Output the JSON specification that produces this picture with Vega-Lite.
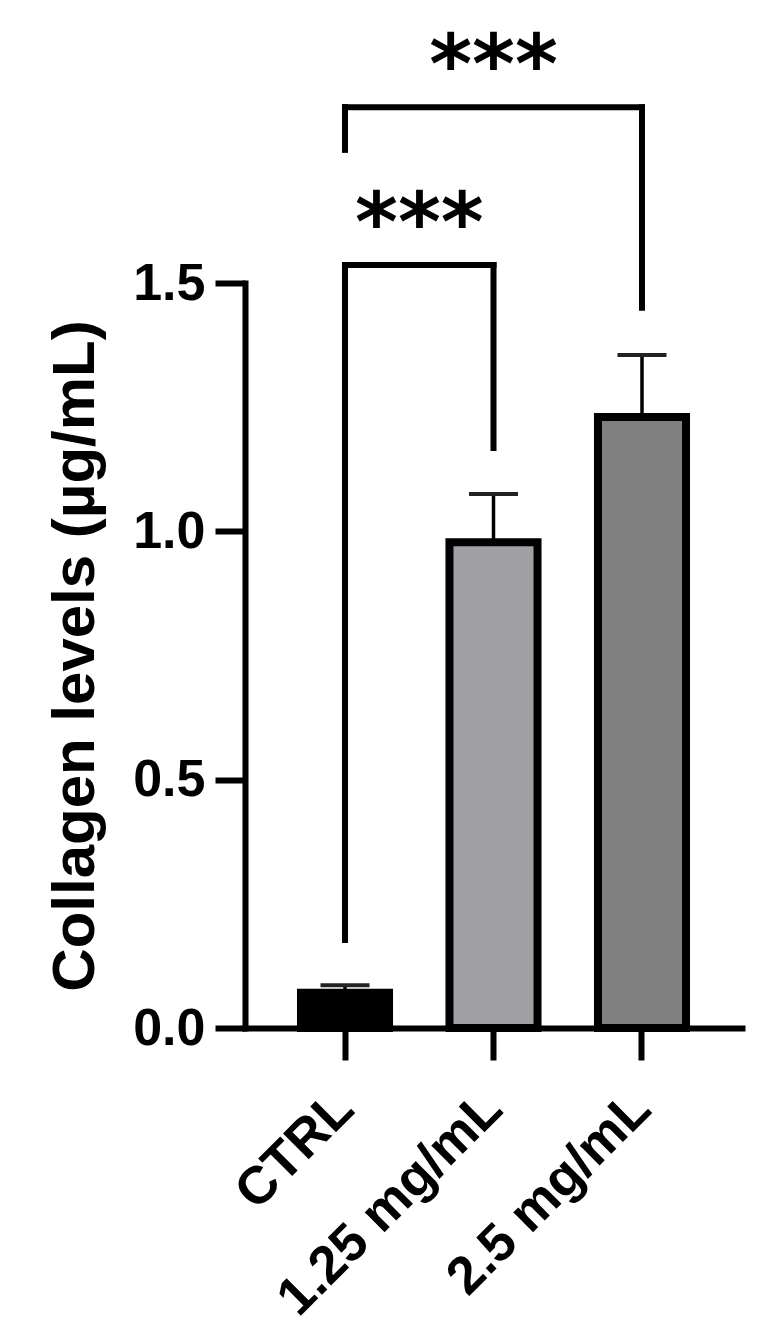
{
  "$schema": "https://vega.github.io/schema/vega-lite/v6.json",
  "width": 497,
  "height": 745,
  "autosize": {"type": "none"},
  "padding": {"left": 245, "top": 283, "right": 36, "bottom": 316},
  "background": "white",
  "config": {
    "view": {"stroke": null},
    "font": "Liberation Sans",
    "axis": {"grid": false, "domainColor": "black", "tickColor": "black", "labelColor": "black", "titleColor": "black", "labelFont": "Liberation Sans", "titleFont": "Liberation Sans", "labelFontWeight": "bold", "titleFontWeight": "bold", "domainWidth": 6, "tickWidth": 6, "domainCap": "square"}
  },
  "datasets": {
    "bars": [
      {"group": "CTRL", "mean": 0.071, "upper": 0.086},
      {"group": "1.25 mg/mL", "mean": 0.978, "upper": 1.075},
      {"group": "2.5 mg/mL", "mean": 1.23, "upper": 1.355}
    ],
    "spans": [
      {"from": "CTRL", "to": "1.25 mg/mL", "y": 1.536},
      {"from": "CTRL", "to": "2.5 mg/mL", "y": 1.854}
    ],
    "legs": [
      {"group": "CTRL", "top": 1.536, "bottom": 0.177},
      {"group": "1.25 mg/mL", "top": 1.536, "bottom": 1.168},
      {"group": "CTRL", "top": 1.854, "bottom": 1.768},
      {"group": "2.5 mg/mL", "top": 1.854, "bottom": 1.45}
    ],
    "starsInner": [{"group": "CTRL", "y": 1.536, "label": "***"}],
    "starsOuter": [{"group": "1.25 mg/mL", "y": 1.854, "label": "***"}]
  },
  "layer": [
    {
      "data": {"name": "bars"},
      "mark": {"type": "bar", "stroke": "black", "strokeWidth": 8},
      "encoding": {
        "x": {
          "field": "group", "type": "nominal", "sort": null,
          "scale": {"domain": ["CTRL", "1.25 mg/mL", "2.5 mg/mL"], "paddingInner": 0.407, "paddingOuter": 0.377},
          "axis": {"title": null, "labelAngle": -45, "labelAlign": "right", "labelBaseline": "middle", "labelFontSize": 53, "labelPadding": 40, "tickSize": 32, "labelLimit": 0}
        },
        "y": {
          "field": "mean", "type": "quantitative",
          "scale": {"domain": [0, 1.5], "nice": false},
          "axis": {"title": "Collagen levels (µg/mL)", "values": [0, 0.5, 1.0, 1.5], "format": ".1f", "labelFontSize": 52, "tickSize": 30, "labelPadding": 10, "titleFontSize": 60, "titlePadding": 26}
        },
        "fill": {
          "field": "group", "type": "nominal",
          "scale": {"domain": ["CTRL", "1.25 mg/mL", "2.5 mg/mL"], "range": ["#000000", "#a0a0a4", "#808080"]},
          "legend": null
        }
      }
    },
    {
      "data": {"name": "bars"},
      "mark": {"type": "rule", "color": "black", "strokeWidth": 3.5},
      "encoding": {
        "x": {"field": "group", "type": "nominal", "sort": null},
        "y": {"field": "mean", "type": "quantitative"},
        "y2": {"field": "upper"}
      }
    },
    {
      "data": {"name": "bars"},
      "mark": {"type": "tick", "color": "#222222", "size": 49, "thickness": 4, "opacity": 1},
      "encoding": {
        "x": {"field": "group", "type": "nominal", "sort": null},
        "y": {"field": "upper", "type": "quantitative"}
      }
    },
    {
      "data": {"name": "spans"},
      "mark": {"type": "rule", "color": "black", "strokeWidth": 6, "strokeCap": "square"},
      "encoding": {
        "x": {"field": "from", "type": "nominal", "sort": null, "bandPosition": 0.5},
        "x2": {"field": "to", "bandPosition": 0.5},
        "y": {"field": "y", "type": "quantitative"}
      }
    },
    {
      "data": {"name": "legs"},
      "mark": {"type": "rule", "color": "black", "strokeWidth": 6, "strokeCap": "square"},
      "encoding": {
        "x": {"field": "group", "type": "nominal", "sort": null},
        "y": {"field": "top", "type": "quantitative"},
        "y2": {"field": "bottom"}
      }
    },
    {
      "data": {"name": "starsInner"},
      "mark": {"type": "text", "font": "DejaVu Sans", "fontWeight": "bold", "fontSize": 82, "baseline": "alphabetic", "align": "center", "dy": -14, "color": "black"},
      "encoding": {
        "x": {"field": "group", "type": "nominal", "sort": null, "bandPosition": 1.344},
        "y": {"field": "y", "type": "quantitative"},
        "text": {"field": "label"}
      }
    },
    {
      "data": {"name": "starsOuter"},
      "mark": {"type": "text", "font": "DejaVu Sans", "fontWeight": "bold", "fontSize": 82, "baseline": "alphabetic", "align": "center", "dy": -14, "color": "black"},
      "encoding": {
        "x": {"field": "group", "type": "nominal", "sort": null},
        "y": {"field": "y", "type": "quantitative"},
        "text": {"field": "label"}
      }
    }
  ]
}
